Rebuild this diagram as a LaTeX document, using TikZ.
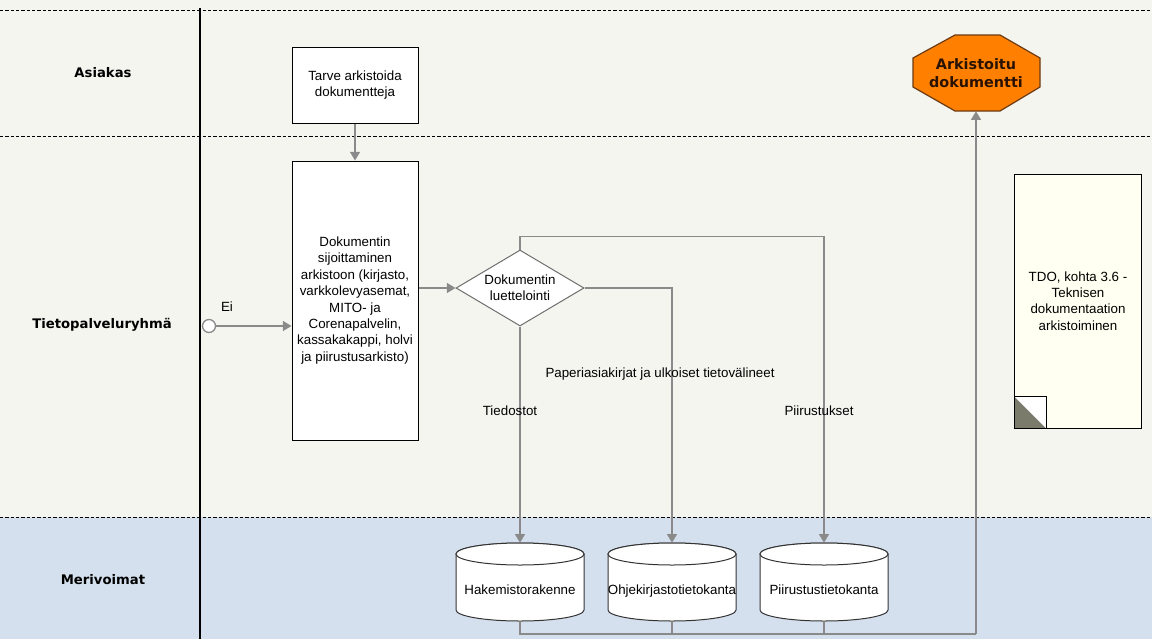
\documentclass[tikz,border=0pt]{standalone}
\usepackage{fontspec}
\setmainfont{Liberation Sans}
\newfontfamily\boldlane{DejaVu Sans}
\usetikzlibrary{shapes.geometric,arrows.meta}
\definecolor{bgtop}{HTML}{F5F5F0}
\definecolor{bglane}{HTML}{D4E0ED}
\definecolor{conn}{HTML}{8A8A8A}
\definecolor{orangefill}{HTML}{FF8000}
\definecolor{orangeline}{HTML}{6B3A12}
\definecolor{orangetext}{HTML}{2A1200}
\definecolor{notefill}{HTML}{FFFFF2}
\definecolor{foldfill}{HTML}{7B7B6B}
\begin{document}
\begin{tikzpicture}[x=0.75pt,y=-0.75pt,
  txt/.style={font=\fontsize{10}{12.3}\selectfont, align=center},
  lane/.style={font=\boldlane\bfseries\fontsize{9.9}{12}\selectfont},
  box/.style={txt, draw=black, fill=white, line width=0.75pt, minimum width=94.5pt, inner sep=1pt},
  flow/.style={draw=conn, line width=1pt, -{Triangle[width=7.5pt,length=6.5pt]}},
  plain/.style={draw=conn, line width=1pt},
  sep/.style={draw=black, line width=0.75pt, dash pattern=on 2.5pt off 1.5pt},
  cylst/.style={draw=black!80, fill=white, line width=0.75pt},
  cylnode/.style={txt, inner sep=0pt, minimum width=96pt, minimum height=58.5pt, text height=19.5pt, text depth=1.5pt}
]
\useasboundingbox (0,0) rectangle (1152,639);
% backgrounds
\fill[bgtop] (0,0) rectangle (1152,517);
\fill[bglane] (0,517) rectangle (1152,639);
% lane separators
\draw[sep] (0,10) -- (1152,10);
\draw[sep] (0,136) -- (1152,136);
\draw[sep] (0,517) -- (1152,517);
\draw[black, line width=0.9pt] (200,8) -- (200,639);
% lane labels
\node[lane] (l1) at (103,73) {Asiakas};
\node[lane] (l2) at (102,325) {Tietopalveluryhmä};
\node[lane] (l3) at (103,580) {Merivoimat};

% process boxes
\node[box, minimum height=57pt] (b1) at (355,85) {Tarve arkistoida\\dokumentteja};
\node[box, minimum height=209.25pt] (b2) at (355,300.5) {Dokumentin\\sijoittaminen\\arkistoon (kirjasto,\\varkkolevyasemat,\\MITO- ja\\Corenapalvelin,\\kassakakappi, holvi\\ja piirustusarkisto)};

% start event
\node[circle, draw=conn, fill=white, line width=1pt, minimum size=9.75pt, inner sep=0pt] (st) at (209,326) {};
\node[txt] (ei) at (227,307) {Ei};

% decision
\node[txt, shape=diamond, draw=conn!80!black, fill=white, line width=0.75pt, aspect=1.68, inner sep=0pt, minimum width=96pt, minimum height=57pt] (dia) at (520,288) {Dokumentin\\luettelointi};

% cylinders
\foreach \cx/\nm/\txt in {520/c1/Hakemistorakenne, 672/c2/Ohjekirjastotietokanta, 824/c3/Piirustustietokanta}{
  \path[cylst] ({\cx-64},554) -- ({\cx-64},610) arc[start angle=180, end angle=0, x radius=64, y radius=11] -- ({\cx+64},554) arc[start angle=0, end angle=-180, x radius=64, y radius=11] -- cycle;
  \draw[cylst] (\cx,554) ellipse [x radius=64, y radius=11];
  \node[cylnode] (\nm) at (\cx,582) {\txt};
}

% end event (octagon)
\filldraw[fill=orangefill, draw=orangeline, line width=0.9pt] (955,35) -- (1000,35) -- (1040,58) -- (1040,87) -- (1000,111) -- (955,111) -- (913,87) -- (913,58) -- cycle;
\node[font=\boldlane\bfseries\fontsize{10.8}{14}\selectfont, text=orangetext, align=center, minimum width=96pt, minimum height=57pt, inner sep=0pt] (end) at (976,73) {Arkistoitu\\dokumentti};

% note
\node[txt, draw=black, fill=notefill, line width=0.75pt, minimum width=95.25pt, minimum height=190.5pt] (tdo) at (1078,301) {TDO, kohta 3.6 -\\Teknisen\\dokumentaation\\arkistoiminen};
\fill[white] (tdo.south west) rectangle ++(32,-32);
\fill[foldfill] (tdo.south west) -- ++(0,-32) -- ++(32,32) -- cycle;
\draw[black, line width=0.75pt] (tdo.south west) rectangle ++(32,-32);

% connectors
\draw[flow] (b1) -- (b2);
\draw[flow] (st) -- (st -| b2.west);
\draw[flow] (b2.east |- dia.west) -- (dia.west);
\draw[flow] (dia.south) -- (c1.north);
\draw[flow] (dia.east) -| (c2.north);
\draw[flow] (dia.north) -- ++(0,-13) -| (c3.north);
\coordinate (ret) at (976,634);
\draw[plain] (c1.south) |- (ret);
\draw[plain] (c2.south) -- (c2.south |- ret);
\draw[plain] (c3.south) -- (c3.south |- ret);
\draw[flow] (ret) -- (end.south);

% branch labels
\node[txt] (t1) at (510,411) {Tiedostot};
\node[txt] (t2) at (660,374) {Paperiasiakirjat ja ulkoiset tietovälineet};
\node[txt] (t3) at (819,411) {Piirustukset};
\end{tikzpicture}
\end{document}
